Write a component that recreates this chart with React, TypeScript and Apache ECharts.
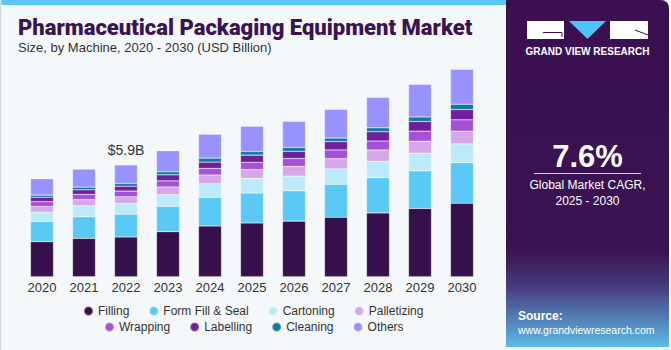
import React, { useEffect, useRef } from "react";
import * as echarts from "echarts";

const years = ["2020", "2021", "2022", "2023", "2024", "2025", "2026", "2027", "2028", "2029", "2030"];
const filling = [1.84, 2.02, 2.09, 2.37, 2.67, 2.83, 2.93, 3.13, 3.36, 3.6, 3.87];
const formFillSeal = [1.07, 1.14, 1.21, 1.34, 1.51, 1.58, 1.6, 1.74, 1.86, 1.98, 2.14];
const cartoning = [0.49, 0.58, 0.56, 0.61, 0.72, 0.77, 0.77, 0.81, 0.86, 0.93, 0.99];
const palletizing = [0.3, 0.32, 0.35, 0.41, 0.46, 0.47, 0.51, 0.54, 0.6, 0.63, 0.67];
const wrapping = [0.26, 0.28, 0.3, 0.32, 0.35, 0.38, 0.42, 0.46, 0.47, 0.53, 0.6];
const labelling = [0.23, 0.24, 0.26, 0.32, 0.33, 0.38, 0.38, 0.44, 0.49, 0.51, 0.54];
const cleaning = [0.11, 0.14, 0.14, 0.16, 0.21, 0.19, 0.21, 0.19, 0.21, 0.24, 0.28];
const others = [0.86, 0.95, 0.98, 1.11, 1.26, 1.33, 1.37, 1.51, 1.6, 1.72, 1.84];

const segmentNames = ["Filling", "Form Fill & Seal", "Cartoning", "Palletizing", "Wrapping", "Labelling", "Cleaning", "Others"];
const segmentValues = [filling, formFillSeal, cartoning, palletizing, wrapping, labelling, cleaning, others];
const segmentColors = ["#36104a", "#5bc9f5", "#bdeafb", "#d6a8ea", "#a650d8", "#6f1f9d", "#117a9b", "#9892fe"];
const labelledYear = "2022";

const titleText = "Pharmaceutical Packaging Equipment Market";
const subtitleText = "Size, by Machine, 2020 - 2030 (USD Billion)";
const cagrText = "7.6%";
const cagrLabel = ["Global Market CAGR,", "2025 - 2030"];

const FONT = "'Liberation Sans', Arial, sans-serif";

export default function App() {
  const ref = useRef<HTMLDivElement>(null);

  useEffect(() => {
    document.body.style.margin = "0";
    if (!ref.current) return;
    const chart = echarts.init(ref.current, null, { renderer: "svg" });
    const labelIdx = years.indexOf(labelledYear);
    const totals = years.map((_, i) => segmentValues.reduce((s, arr) => s + arr[i], 0));

    const series = segmentNames.map((name, k) => ({
      name,
      type: "bar",
      stack: "total",
      barWidth: 23,
      data: segmentValues[k],
      itemStyle: {
        color: segmentColors[k],
        borderColor: "rgba(255,255,255,0.3)",
        borderWidth: 0.6,
      },
      label:
        k === segmentNames.length - 1
          ? {
              show: true,
              position: "top",
              distance: 8,
              fontSize: 14,
              fontFamily: FONT,
              color: "#333",
              formatter: (p: any) => (p.dataIndex === labelIdx ? `$${totals[labelIdx].toFixed(1)}B` : ""),
            }
          : { show: false },
    }));

    const legendCommon = {
      icon: "circle",
      itemWidth: 9,
      itemHeight: 9,
      itemGap: 19,
      padding: 0,
      selectedMode: false,
      textStyle: { fontSize: 12, color: "#333", fontFamily: FONT },
    };

    chart.setOption({
      animation: false,
      backgroundColor: "#f4f8fb",
      grid: { left: 21, right: 188, top: 68, bottom: 73.3 },
      xAxis: {
        type: "category",
        data: years,
        axisLine: { show: false },
        axisTick: { show: false },
        axisLabel: { margin: 4, fontSize: 13, color: "#333", fontFamily: FONT },
      },
      yAxis: { type: "value", min: 0, max: 11, show: false, splitLine: { show: false } },
      legend: [
        { ...legendCommon, left: 83, top: 305, data: segmentNames.slice(0, 4) },
        { ...legendCommon, left: 104, top: 321, data: segmentNames.slice(4) },
      ],
      series,
      graphic: [
        { type: "rect", shape: { x: 0, y: 0, width: 506, height: 5 }, style: { fill: "#5bc8f5" }, silent: true },
        { type: "rect", shape: { x: 0, y: 0, width: 1.5, height: 350 }, style: { fill: "#d5dde3" }, silent: true },
        {
          type: "text",
          left: 18,
          top: 16,
          style: { text: titleText, fontSize: 22, fontWeight: 900, fontFamily: "Roboto, sans-serif", fill: "#3a1350" },
        },
        {
          type: "text",
          left: 18,
          top: 41,
          style: { text: subtitleText, fontSize: 13, fontFamily: FONT, fill: "#333" },
        },
        {
          type: "rect",
          shape: { x: 506, y: 0, width: 163, height: 347, r: [0, 8, 0, 0] },
          style: {
            fill: new echarts.graphic.LinearGradient(0, 0, 0, 1, [
              { offset: 0, color: "#3a1050" },
              { offset: 0.72, color: "#3b1352" },
              { offset: 0.82, color: "#46387a" },
              { offset: 1, color: "#5cbbe8" },
            ]),
          },
          silent: true,
        },
        { type: "rect", shape: { x: 527, y: 21, width: 37, height: 18 }, style: { fill: "#ffffff" }, silent: true },
        { type: "polyline", shape: { points: [[543, 32.5], [562, 32.5], [562, 37]] }, style: { stroke: "#3a1050", lineWidth: 1, fill: "none" }, silent: true },
        { type: "polygon", shape: { points: [[569, 21], [606, 21], [587.5, 39]] }, style: { fill: "#4fc3f7" }, silent: true },
        { type: "rect", shape: { x: 610, y: 21, width: 38, height: 18 }, style: { fill: "#ffffff" }, silent: true },
        { type: "line", shape: { x1: 635, y1: 30, x2: 648, y2: 35 }, style: { stroke: "#3a1050", lineWidth: 1 }, silent: true },
        {
          type: "text",
          x: 587.5,
          y: 51,
          style: { text: "GRAND VIEW RESEARCH", fontSize: 10, fontWeight: "bold", fontFamily: FONT, fill: "#ffffff", align: "center", verticalAlign: "middle" },
        },
        {
          type: "text",
          x: 587.5,
          y: 156,
          style: { text: cagrText, fontSize: 31, fontWeight: "bold", fontFamily: FONT, fill: "#ffffff", align: "center", verticalAlign: "middle" },
        },
        { type: "line", shape: { x1: 534, y1: 173.5, x2: 641, y2: 173.5 }, style: { stroke: "#d8cfe3", lineWidth: 1 }, silent: true },
        {
          type: "text",
          x: 587.5,
          y: 185,
          style: { text: cagrLabel[0], fontSize: 12, fontFamily: FONT, fill: "#ffffff", align: "center", verticalAlign: "middle" },
        },
        {
          type: "text",
          x: 587.5,
          y: 201,
          style: { text: cagrLabel[1], fontSize: 12, fontFamily: FONT, fill: "#ffffff", align: "center", verticalAlign: "middle" },
        },
        {
          type: "text",
          x: 518,
          y: 316,
          style: { text: "Source:", fontSize: 12, fontWeight: "bold", fontFamily: FONT, fill: "#ffffff", verticalAlign: "middle" },
        },
        {
          type: "text",
          x: 518,
          y: 329.5,
          style: { text: "www.grandviewresearch.com", fontSize: 10.5, fontFamily: FONT, fill: "#ffffff", verticalAlign: "middle" },
        },
      ],
    });
    return () => chart.dispose();
  }, []);

  return <div ref={ref} style={{ width: 671, height: 350 }} />;
}
